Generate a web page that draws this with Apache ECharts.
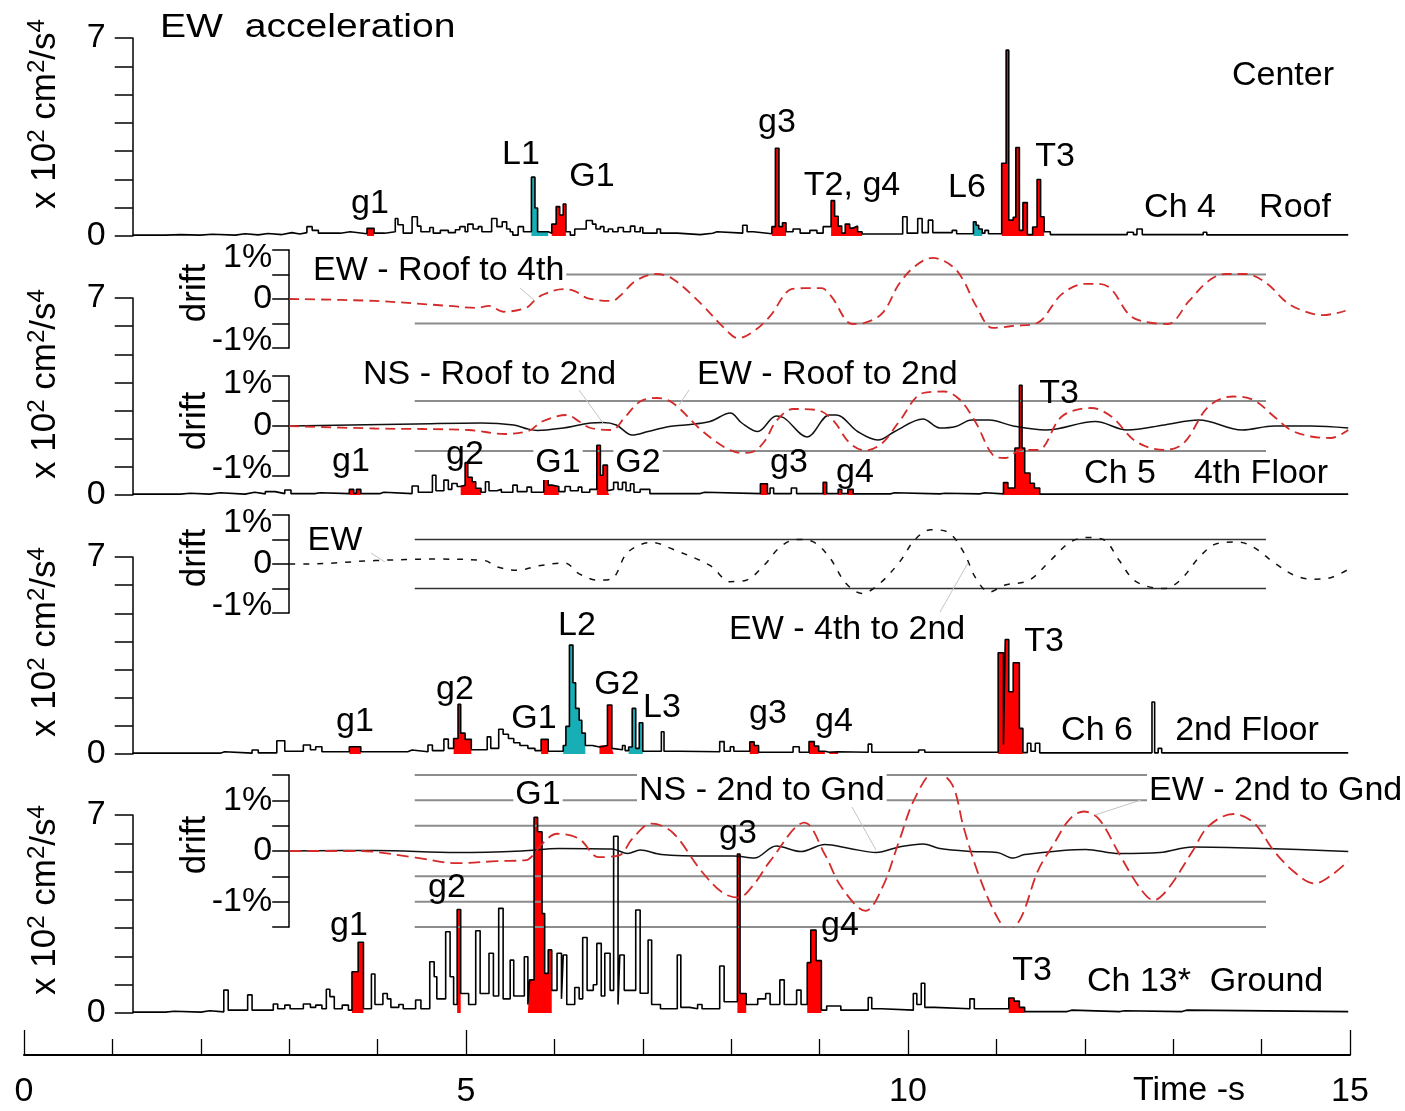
<!DOCTYPE html>
<html>
<head>
<meta charset="utf-8">
<title>EW acceleration</title>
<script src="https://cdn.jsdelivr.net/npm/echarts@6.0.0/dist/echarts.min.js"></script>
<style>
  html, body { margin: 0; padding: 0; background: #fff; }
  #chart { width: 1405px; height: 1111px; }
</style>
</head>
<body>
<div id="chart"></div>
<script>
// acceleration histograms: [start time s, value x10^2 cm^2/s^4, fill]  fill 1 = red, 2 = cyan
var roofSteps = [
    [1.23,.03],[1.60,.05],[1.77,.03],[1.99,.06],[2.13,.03],[2.39,.08],[2.50,.04],[2.65,.09],[2.76,.05],[2.92,.12],
    [3.03,.07],[3.12,.12],[3.20,.33],[3.26,.2],[3.33,.1],[3.58,.15],[3.69,.08],
    [3.88,.27,1],[3.96,.1],[4.08,.15],[4.20,.62],[4.23,.4],[4.29,.1],[4.39,.68],[4.45,.35],[4.49,.15],[4.59,.3],
    [4.63,.1],[4.71,.2],[4.80,.12],[4.88,.22],[4.93,.33],[4.99,.15],[5.02,.42],[5.08,.25],[5.14,.33],[5.18,.15],
    [5.29,.62],[5.35,.33],[5.41,.5],[5.46,.25],[5.50,.15],[5.53,.03],[5.59,.33],[5.65,.15],
    [5.74,2.08,2],[5.78,.99,2],[5.81,.15,2],[5.93,.1],
    [5.97,.42,1],[6.02,1.04,1],[6.06,.74,1],[6.10,1.13,1],[6.13,.15],[6.18,.03],[6.23,.25],[6.36,.55],[6.43,.42],
    [6.47,.25],[6.52,.33],[6.56,.15],[6.61,.25],[6.66,.15],[6.72,.3],[6.78,.15],[6.86,.35],[6.91,.15],[6.97,.3],
    [7.00,.1],[7.16,.25],[7.20,.1],[7.39,.05],[7.65,.1],[7.79,.15],[7.84,.1],[8.13,.38],[8.18,.15],[8.25,.08],
    [8.46,.33,1],[8.50,3.1,1],[8.54,.33,1],[8.58,.47,1],[8.62,.15],[8.70,.25],[8.78,.1],[8.89,.2],[8.97,.1],[9.04,.33],
    [9.13,1.25,1],[9.17,.7,1],[9.21,.35,1],[9.25,.1,1],[9.29,.42,1],[9.34,.28,1],[9.38,.35,1],[9.43,.15,1],[9.48,.07],
    [9.94,.68],[9.99,.1],[10.11,.62],[10.16,.12],[10.23,.56],[10.28,.12],[10.50,.2],[10.55,.08],
    [10.74,.5,2],[10.77,.38,2],[10.80,.25,2],[10.84,.1],[10.87,.2],[10.91,.08],
    [11.06,2.57,1],[11.11,6.57,1],[11.14,.56,1],[11.19,.66,1],[11.22,3.13,1],[11.26,.2,1],[11.30,1.18,1],
    [11.35,.05,1],[11.41,.32,1],[11.46,2.0,1],[11.50,.68,1],[11.54,.15],[11.61,.05],[12.48,.13],[12.55,.05],
    [12.59,.25],[12.65,.05],[13.34,.13],[13.38,.04],[14.98,.04]
];
var floor4Steps = [
    [1.23,.03],[1.77,.06],[1.88,.03],[2.10,.08],[2.22,.03],[2.50,.1],[2.61,.04],[2.73,.12],[2.84,.05],[2.95,.18],
    [3.02,.05],[3.29,.08],[3.35,.05],
    [3.68,.2,1],[3.73,.06,1],[3.76,.2,1],[3.81,.05],[4.03,.1],[4.07,.05],[4.39,.32],[4.46,.1],[4.62,.7],[4.66,.15],
    [4.75,.53],[4.80,.2],[4.84,.41],[4.90,.3],
    [4.94,.35,1],[4.99,1.15,1],[5.02,.63,1],[5.07,.47,1],[5.11,.24,1],[5.17,.1],[5.22,.47],[5.26,.15],[5.35,.2],
    [5.40,.1],[5.53,.35],[5.58,.12],[5.69,.28],[5.74,.1],
    [5.88,.6,1],[5.93,.35,1],[5.97,.3,1],[6.05,.12],[6.12,.3],[6.18,.15],[6.27,.28],[6.31,.1],[6.40,.2],
    [6.48,1.77,1],[6.52,.7,1],[6.55,1.06,1],[6.60,.15,1],[6.62,.2],[6.67,.45],[6.72,.2],[6.77,.45],[6.81,.15],
    [6.86,.4],[6.90,.1],[6.97,.2],[7.08,.05],[7.65,.1],[7.70,.05],
    [8.33,.4,1],[8.41,.05],[8.44,.25],[8.48,.05],[8.68,.25],[8.74,.05],
    [9.04,.45,1],[9.08,.05],[9.21,.2,1],[9.25,.05],[9.32,.2,1],[9.38,.04],[9.80,.08],[9.85,.04],[10.36,.06],
    [10.42,.04],[10.81,.08],[10.87,.04],
    [11.08,.44,1],[11.13,.25,1],[11.21,1.67,1],[11.26,3.9,1],[11.29,1.67,1],[11.32,.78,1],[11.38,.42,1],
    [11.43,.25,1],[11.49,.03],[14.98,.03]
];
var floor2Steps = [
    [1.23,.03],[2.22,.08],[2.27,.03],[2.58,.14],[2.65,.04],[2.86,.47],[2.95,.1],[3.16,.32],[3.24,.15],[3.30,.26],
    [3.37,.08],
    [3.68,.26,1],[3.81,.08],[4.34,.14],[4.39,.08],[4.57,.32],[4.62,.12],[4.75,.53],[4.80,.2],
    [4.86,.55,1],[4.91,1.77,1],[4.94,.74,1],[4.99,.52,1],[5.06,.15],[5.24,.61],[5.28,.2],[5.37,.88],[5.42,.7],
    [5.48,.55],[5.54,.4],[5.61,.3],[5.70,.2],[5.78,.12],
    [5.85,.52,1],[5.93,.1],
    [6.10,.3,2],[6.13,.98,2],[6.17,3.87,2],[6.21,2.53,2],[6.24,1.62,2],[6.28,1.2,2],[6.31,.74,2],[6.35,.3],[6.43,.25],
    [6.51,.3,1],[6.60,1.74,1],[6.65,.2,1],[6.67,.15],[6.77,.3],[6.80,.12],
    [6.84,.25,2],[6.88,1.62,2],[6.92,.2,2],[6.96,1.11,2],[7.00,.1],[7.21,.79],[7.24,.1],[7.42,.08],[7.87,.44],
    [7.92,.1],[7.99,.26],[8.03,.1],
    [8.21,.43,1],[8.26,.3,1],[8.31,.06],[8.70,.26],[8.77,.06],
    [8.88,.44,1],[8.94,.28,1],[8.99,.1,1],[9.06,.06],[9.11,.08,1],[9.21,.06],[9.55,.35],[9.59,.06],[10.12,.14],
    [10.19,.06],
    [11.02,3.6,1],[11.08,.33,1],[11.10,4.07,1],[11.14,2.21,1],[11.19,3.24,1],[11.26,.91,1],[11.30,.05],[11.35,.38],
    [11.39,.1],[11.44,.38],[11.49,.04],[12.76,1.85],[12.79,.04],[12.83,.2],[12.87,.04],[14.98,.04]
];
var groundSteps = [
    [1.23,.03],[1.60,.06],[1.70,.03],[2.00,.08],[2.10,.04],[2.26,.81],[2.31,.1],[2.53,.64],[2.58,.1],[2.82,.32],
    [2.87,.15],[2.95,.28],[3.01,.15],[3.16,.32],[3.24,.2],[3.30,.28],[3.37,.15],[3.42,.84],[3.46,.58],[3.51,.15],
    [3.60,.28],[3.67,.1],
    [3.71,1.46,1],[3.78,2.5,1],[3.84,.15],[3.93,1.38],[3.97,.3],[4.06,.69],[4.11,.5],[4.15,.2],[4.24,.3],[4.29,.15],
    [4.43,.46],[4.49,.15],[4.59,1.81],[4.64,1.28],[4.67,.5],[4.77,2.87],[4.82,1.28],[4.86,.3],
    [4.90,3.66,1],[4.94,.69],[5.03,.3],[5.11,2.91],[5.16,.69],[5.26,2.11],[5.31,.6],[5.37,3.7],[5.42,.5],[5.50,1.87],
    [5.54,.6],[5.66,1.99],[5.70,.3],
    [5.72,1.17,1],[5.77,6.92,1],[5.81,6.41,1],[5.86,3.52,1],[5.89,1.4,1],[5.93,2.23,1],[5.97,.8],[6.03,2.11],
    [6.08,.5],[6.10,2.05],[6.14,.3],[6.23,.9],[6.28,.5],[6.32,2.67],[6.37,.8],[6.44,1.0],[6.48,2.46],[6.53,.6],
    [6.57,2.11],[6.63,.8],[6.67,6.25],[6.72,.3],[6.74,2.05],[6.79,.8],[6.92,3.64],[6.97,.7],[7.06,2.58],[7.10,.3],
    [7.20,.15],[7.39,2.05],[7.43,.2],[7.53,.15],[7.62,.3],[7.67,.15],[7.87,1.66],[7.92,.4],
    [8.07,5.62,1],[8.10,.69,1],[8.17,.3],[8.30,.5],[8.39,.69],[8.44,.3],[8.55,1.17],[8.60,.3],[8.74,.81],[8.79,.3],
    [8.86,1.78,1],[8.90,2.93,1],[8.96,1.85,1],[9.02,.1],[9.08,.25],[9.24,.1],[9.55,.55],[9.59,.15],[9.70,.1],
    [10.06,.69],[10.10,.3],[10.15,1.05],[10.19,.2],[10.30,.15],[10.70,.5],[10.75,.15],
    [11.14,.53,1],[11.20,.42,1],[11.26,.2,1],[11.32,.05],[11.80,.1],[11.85,.05],[12.40,.08],[12.45,.05],
    [13.10,.1],[13.15,.05],[14.98,.05]
];

// inter-storey drift, %  [time s, drift]
var driftRoof4thEW = [
    [3.0,0],[3.97,-0.04],[4.8,-0.14],[5.12,-0.18],[5.26,-0.14],[5.42,-0.26],[5.68,-0.18],[5.77,-0.04],[5.86,0.08],
    [6.1,0.2],[6.23,0.16],[6.37,0.02],[6.65,-0.04],[6.74,0.06],[6.92,0.37],[7.15,0.51],[7.34,0.41],[7.66,-0.1],
    [7.92,-0.59],[8.08,-0.8],[8.26,-0.65],[8.44,-0.35],[8.68,0.2],[8.83,0.22],[9.02,0.22],[9.13,0.06],[9.37,-0.51],
    [9.5,-0.49],[9.71,-0.29],[9.9,0.31],[10.08,0.67],[10.28,0.84],[10.5,0.67],[10.63,0.37],[10.77,-0.14],
    [10.96,-0.59],[11.19,-0.55],[11.46,-0.49],[11.74,0.1],[12.01,0.31],[12.16,0.31],[12.3,0.2],[12.52,-0.35],
    [12.76,-0.49],[12.94,-0.51],[13.18,-0.04],[13.4,0.37],[13.59,0.51],[13.82,0.51],[14.05,0.33],[14.29,-0.08],
    [14.47,-0.24],[14.69,-0.33],[14.95,-0.24]
];
var driftRoof2ndEW = [
    [3.0,0],[3.97,-0.05],[5.03,-0.08],[5.44,-0.16],[5.72,-0.09],[5.86,0.09],[6.14,0.22],[6.28,0.09],[6.41,-0.04],
    [6.65,-0.08],[6.79,0.16],[6.97,0.49],[7.16,0.56],[7.34,0.46],[7.66,-0.08],[7.94,-0.44],[8.12,-0.54],
    [8.24,-0.52],[8.38,-0.3],[8.51,0.1],[8.70,0.34],[8.97,0.32],[9.15,0.12],[9.34,-0.34],[9.52,-0.49],[9.71,-0.34],
    [9.90,0.09],[10.17,0.66],[10.41,0.69],[10.59,0.52],[10.77,0.06],[10.96,-0.58],[11.10,-0.64],[11.28,-0.48],
    [11.47,-0.48],[11.74,0.19],[12.07,0.36],[12.30,0.19],[12.58,-0.31],[12.90,-0.48],[13.12,-0.34],[13.40,0.39],
    [13.68,0.59],[13.91,0.52],[14.14,0.19],[14.33,-0.08],[14.56,-0.21],[14.78,-0.24],[14.98,-0.08]
];
var driftRoof2ndNS = [
    [3.0,0],[4.43,0.04],[5.17,0.06],[5.54,0.02],[5.70,-0.06],[5.81,-0.09],[6.10,-0.04],[6.28,0.02],[6.41,0.06],
    [6.55,0.07],[6.70,0.02],[6.88,-0.18],[7.06,-0.11],[7.30,-0.01],[7.48,0.02],[7.76,0.09],[7.99,0.26],[8.12,0.06],
    [8.30,-0.11],[8.51,0.2],[8.60,0.16],[8.86,-0.22],[9.11,0.22],[9.19,0.22],[9.43,-0.11],[9.66,-0.28],[9.85,-0.11],
    [10.17,0.14],[10.36,-0.04],[10.54,-0.01],[10.72,0.12],[10.92,0.12],[11.19,0.0],[11.56,-0.08],[12.12,0.09],
    [12.48,-0.08],[12.90,0.02],[13.29,0.12],[13.78,-0.08],[14.14,0.0],[14.56,0.0],[14.98,-0.04]
];
var drift4th2ndEW = [
    [3.0,0],[3.18,0],[3.97,0.07],[4.66,0.1],[5.21,0.07],[5.35,-0.06],[5.59,-0.13],[5.81,-0.04],[6.12,0.02],
    [6.28,-0.2],[6.50,-0.33],[6.65,-0.3],[6.83,0.24],[7.10,0.44],[7.34,0.3],[7.76,-0.03],[7.99,-0.36],[8.17,-0.33],
    [8.37,-0.03],[8.55,0.34],[8.74,0.5],[8.93,0.45],[9.11,0.14],[9.30,-0.4],[9.48,-0.6],[9.66,-0.43],[9.90,0.03],
    [10.08,0.5],[10.26,0.7],[10.45,0.65],[10.63,0.24],[10.77,-0.3],[10.92,-0.57],[11.10,-0.43],[11.37,-0.33],
    [11.61,0.07],[11.83,0.44],[12.02,0.54],[12.21,0.5],[12.39,0.07],[12.58,-0.36],[12.90,-0.5],[13.08,-0.33],
    [13.31,0.17],[13.50,0.42],[13.73,0.45],[13.91,0.34],[14.14,0.03],[14.38,-0.24],[14.60,-0.31],[14.78,-0.28],
    [14.98,-0.11]
];
var drift2ndGndEW = [
    [3.0,0],[3.79,0],[4.43,-0.13],[4.90,-0.24],[5.35,-0.2],[5.68,-0.18],[5.77,-0.06],[5.86,0.14],[6.03,0.34],
    [6.28,0.24],[6.50,-0.12],[6.74,-0.08],[6.88,0.24],[7.10,0.54],[7.34,0.36],[7.66,-0.39],[7.90,-0.82],[8.08,-0.92],
    [8.26,-0.65],[8.44,-0.2],[8.83,0.56],[9.06,-0.07],[9.25,-0.72],[9.52,-1.18],[9.71,-0.72],[9.90,0.2],[10.08,1.05],
    [10.31,1.57],[10.50,1.31],[10.63,0.46],[10.81,-0.52],[11.01,-1.31],[11.14,-1.57],[11.28,-1.31],[11.47,-0.39],
    [11.65,0.14],[11.83,0.63],[11.99,0.78],[12.16,0.63],[12.39,-0.06],[12.62,-0.72],[12.78,-0.97],[12.94,-0.75],
    [13.22,0],[13.40,0.49],[13.68,0.73],[13.91,0.56],[14.14,0],[14.38,-0.43],[14.60,-0.64],[14.78,-0.49],[14.98,-0.2]
];
var drift2ndGndNS = [
    [3.0,0],[3.97,0.01],[4.90,-0.03],[5.63,0.0],[6.05,0.05],[6.65,0.04],[6.83,-0.05],[6.97,0.02],[7.21,-0.07],
    [7.76,-0.1],[8.03,-0.1],[8.26,-0.14],[8.51,0.1],[8.79,-0.01],[9.06,0.13],[9.34,0.05],[9.64,-0.03],[9.90,0.08],
    [10.17,0.14],[10.36,0.05],[10.72,-0.01],[11.01,-0.03],[11.19,-0.14],[11.32,-0.07],[12.01,0.03],[12.39,-0.05],
    [12.85,-0.03],[13.22,0.08],[14.05,0.05],[14.98,-0.01]
];

var accTicks = [0, 7];
var driftTicks = [-1, 0, 1];
var timeTicks = [0, 5, 10, 15];
var refSpan = [4.42, 14.05];

var FONT = '"Liberation Sans", Arial, sans-serif';
var RED = '#ff0000', CYAN = '#17aeb5', DASHRED = '#d42a2a';

// layout in pixels
var X0 = 24, X15 = 1350, RIGHT = 1405 - X15;
var pxPerSec = (X15 - X0) / 15;
var ACC_T0 = 1.23, DRIFT_T0 = 3;

var accPanels = [
    { steps: roofSteps, top: 38, bottom: 236 },
    { steps: floor4Steps, top: 298, bottom: 495 },
    { steps: floor2Steps, top: 557, bottom: 754 },
    { steps: groundSteps, top: 815, bottom: 1013 }
];
var driftPanels = [
    { top: 250, bottom: 348, lim: 1, refs: [0.5, -0.5], refColor: '#8c8c8c', ends: true,
      curves: [{ data: driftRoof4thEW, color: DASHRED, type: [10, 6], width: 1.8 }] },
    { top: 376, bottom: 476, lim: 1, refs: [0.5, -0.5], refColor: '#8c8c8c', ends: true,
      curves: [{ data: driftRoof2ndNS, color: '#111', type: 'solid', width: 1.5 },
               { data: driftRoof2ndEW, color: DASHRED, type: [10, 6], width: 1.8 }] },
    { top: 515, bottom: 613, lim: 1, refs: [0.5, -0.5], refColor: '#333', ends: true,
      curves: [{ data: drift4th2ndEW, color: '#111', type: [6, 8], width: 1.5 }] },
    { top: 775, bottom: 927, lim: 1.5, refs: [1.5, 1, 0.5, -0.5, -1, -1.5], refColor: '#8c8c8c', ends: false,
      curves: [{ data: drift2ndGndNS, color: '#111', type: 'solid', width: 1.5 },
               { data: drift2ndGndEW, color: DASHRED, type: [12, 6], width: 1.8 }] }
];

var grids = [], xAxes = [], yAxes = [], series = [];

accPanels.forEach(function (p) {
    var i = grids.length;
    grids.push({ left: X0 + ACC_T0 * pxPerSec, right: RIGHT, top: p.top, height: p.bottom - p.top });
    xAxes.push({ type: 'value', gridIndex: i, min: ACC_T0, max: 15, show: false });
    yAxes.push({
        type: 'value', gridIndex: i, min: 0, max: 7, interval: 1,
        axisLine: { show: true, onZero: false, lineStyle: { color: '#000', width: 1.5 } },
        axisTick: { show: true, length: 18, lineStyle: { color: '#000', width: 1.5 } },
        splitLine: { show: false },
        axisLabel: {
            margin: 27, fontSize: 34, fontFamily: FONT, color: '#000',
            formatter: function (v) { return accTicks.indexOf(v) >= 0 ? String(v) : ''; }
        }
    });
    [[1, RED], [2, CYAN]].forEach(function (f) {
        series.push({
            type: 'line', xAxisIndex: i, yAxisIndex: i, step: 'end', symbol: 'none', silent: true, z: 2,
            lineStyle: { opacity: 0 }, areaStyle: { color: f[1], opacity: 1 },
            data: p.steps.map(function (s) { return [s[0], s[2] === f[0] ? s[1] : 0]; })
        });
    });
    series.push({
        type: 'line', xAxisIndex: i, yAxisIndex: i, step: 'end', symbol: 'none', silent: true, z: 3,
        lineStyle: { color: '#000', width: 1.6 },
        data: p.steps.map(function (s) { return [s[0], s[1]]; })
    });
});

driftPanels.forEach(function (p) {
    var i = grids.length;
    grids.push({ left: X0 + DRIFT_T0 * pxPerSec, right: RIGHT, top: p.top, height: p.bottom - p.top });
    xAxes.push({ type: 'value', gridIndex: i, min: DRIFT_T0, max: 15, show: false });
    yAxes.push({
        type: 'value', gridIndex: i, min: -p.lim, max: p.lim, interval: 0.5,
        axisLine: { show: true, onZero: false, lineStyle: { color: '#000', width: 1.5 } },
        axisTick: { show: true, length: 17, lineStyle: { color: '#000', width: 1.5 } },
        splitLine: { show: false },
        axisLabel: {
            margin: 17, fontSize: 34, fontFamily: FONT, color: '#000',
            formatter: function (v) {
                if (driftTicks.indexOf(v) < 0) return '';
                var txt = v === 0 ? '0' : v + '%';
                if (p.ends && v === 1) return '{hi|' + txt + '}';
                if (p.ends && v === -1) return '{lo|' + txt + '}';
                return txt;
            },
            rich: {
                hi: { fontSize: 34, fontFamily: FONT, color: '#000', padding: [16, 0, 0, 0] },
                lo: { fontSize: 34, fontFamily: FONT, color: '#000', padding: [0, 0, 14, 0] }
            }
        }
    });
    p.refs.forEach(function (lv) {
        series.push({
            type: 'line', xAxisIndex: i, yAxisIndex: i, symbol: 'none', silent: true, z: 2,
            lineStyle: { color: p.refColor, width: p.refColor === '#333' ? 1.3 : 2 },
            data: [[refSpan[0], lv], [refSpan[1], lv]]
        });
    });
    p.curves.forEach(function (c) {
        series.push({
            type: 'line', xAxisIndex: i, yAxisIndex: i, symbol: 'none', silent: true, z: 20,
            smooth: 0.35, lineStyle: { color: c.color, width: c.width, type: c.type },
            data: c.data
        });
    });
});

// time axis at the bottom
var ti = grids.length;
grids.push({ left: X0, right: RIGHT, top: 1000, height: 55 });
xAxes.push({
    type: 'value', gridIndex: ti, min: 0, max: 15, interval: 5,
    axisLine: { show: true, onZero: false, lineStyle: { color: '#000', width: 2 } },
    axisTick: { show: true, inside: true, length: 25, lineStyle: { color: '#000', width: 1.3 } },
    minorTick: { show: true, splitNumber: 5, length: 16, lineStyle: { color: '#000', width: 1.3 } },
    splitLine: { show: false },
    axisLabel: {
        margin: 20, fontSize: 34, fontFamily: FONT, color: '#000',
        formatter: function (v) { return timeTicks.indexOf(v) >= 0 ? String(v) : ''; }
    }
});
yAxes.push({ type: 'value', gridIndex: ti, show: false, min: 0, max: 1 });

// annotation text: [text, x, y, align, whiteBackground]
var labels = [
    ['Center', 1283, 76], ['Ch 4', 1180, 208], ['Roof', 1295, 208],
    ['g1', 370, 204], ['L1', 521, 155], ['G1', 592, 177], ['g3', 777, 123], ['T2, g4', 852, 186],
    ['L6', 967, 188], ['T3', 1055, 157],
    ['EW - Roof to 4th', 311, 271, 'left', true],
    ['NS - Roof to 2nd', 363, 375, 'left'], ['EW - Roof to 2nd', 697, 375, 'left'],
    ['T3', 1059, 394], ['g1', 351, 462], ['g2', 465, 455], ['G1', 558, 463, 'center', true],
    ['G2', 638, 463, 'center', true], ['g3', 789, 463], ['g4', 855, 473], ['Ch 5', 1120, 474],
    ['4th Floor', 1261, 474],
    ['EW', 335, 541], ['EW - 4th to 2nd', 729, 630, 'left'], ['L2', 577, 626], ['g2', 455, 690],
    ['G1', 534, 719], ['G2', 617, 685], ['L3', 662, 708], ['g1', 355, 722], ['g3', 768, 714], ['g4', 834, 722],
    ['T3', 1044, 642], ['Ch 6', 1097, 731], ['2nd Floor', 1247, 731],
    ['NS - 2nd to Gnd', 637, 791, 'left', true], ['EW - 2nd to Gnd', 1147, 791, 'left', true],
    ['G1', 538, 795, 'center', true], ['g3', 738, 834], ['g2', 447, 888], ['g1', 349, 926], ['g4', 840, 926],
    ['T3', 1032, 971], ['Ch 13*  Ground', 1087, 982, 'left'],
    ['Time -s', 1189, 1091]
];
var unitName = '{b|x 10}{s|2}{b| cm}{s|2}{b|/s}{s|4}';
var rotated = [
    [unitName, 45, 114], [unitName, 45, 384], [unitName, 45, 642], [unitName, 45, 900],
    ['drift', 195, 293], ['drift', 195, 421], ['drift', 195, 558], ['drift', 195, 845]
];
var leaders = [
    [520, 288, 534, 300], [579, 390, 603, 423], [689, 390, 679, 405], [371, 553, 385, 562],
    [940, 612, 968, 563], [852, 807, 876, 850], [1141, 800, 1095, 815]
];

var graphics = [];
graphics.push({
    type: 'text', x: 160, y: 28, z: 30, scaleX: 1.15,
    style: { text: 'EW  acceleration', font: '34px ' + FONT, fill: '#000', align: 'left', verticalAlign: 'middle' }
});
labels.forEach(function (l) {
    var st = { text: l[0], font: '34px ' + FONT, fill: '#000', align: l[3] || 'center', verticalAlign: 'middle' };
    if (l[4]) { st.backgroundColor = '#fff'; st.padding = [0, 2, 0, 2]; }
    graphics.push({ type: 'text', x: l[1], y: l[2], z: 10, style: st });
});
rotated.forEach(function (l) {
    graphics.push({
        type: 'text', x: l[1], y: l[2], z: 10, rotation: Math.PI / 2,
        style: {
            text: l[0], font: '35px ' + FONT, fill: '#000', align: 'center', verticalAlign: 'middle',
            rich: {
                b: { fontSize: 35, fontFamily: FONT, lineHeight: 40, verticalAlign: 'middle' },
                s: { fontSize: 24, fontFamily: FONT, lineHeight: 20, verticalAlign: 'top' }
            }
        }
    });
});
leaders.forEach(function (s) {
    graphics.push({
        type: 'line', z: 30, silent: true,
        shape: { x1: s[0], y1: s[1], x2: s[2], y2: s[3] },
        style: { stroke: '#c4c4c4', lineWidth: 1 }
    });
});

var chart = echarts.init(document.getElementById('chart'));
chart.setOption({
    backgroundColor: '#fff',
    animation: false,
    grid: grids,
    xAxis: xAxes,
    yAxis: yAxes,
    series: series,
    graphic: graphics
});
</script>
</body>
</html>
